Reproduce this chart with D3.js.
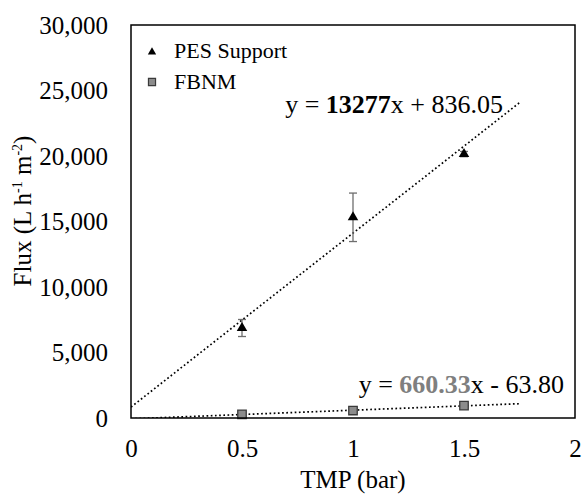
<!DOCTYPE html>
<html>
<head>
<meta charset="utf-8">
<script src="https://cdn.jsdelivr.net/npm/d3@7"></script>
<style>
  html, body { margin: 0; padding: 0; background: #fff; }
  svg { display: block; font-family: "Liberation Serif", "Times New Roman", serif; }
</style>
</head>
<body>
<svg id="chart" width="582" height="495"></svg>
<script>
// Transmembrane pressure (bar)
const tmp = [0.5, 1.0, 1.5];
// Flux of the PES support and the FBNM (L h-1 m-2)
const pesFlux = [6870, 15320, 20147];
const pesErr = [650, 1850, 200];
const fbnmFlux = [280, 570, 940];
// Linear fits: y = slope * x + intercept
const pesFit = { slope: 13277, intercept: 836.05 };
const fbnmFit = { slope: 660.33, intercept: -63.80 };
const fitRange = [0, 1.75];
// Axis ticks
const xTicks = [0, 0.5, 1, 1.5, 2];
const yTicks = [0, 5000, 10000, 15000, 20000, 25000, 30000];
const seriesNames = ["PES Support", "FBNM"];

const svg = d3.select("#chart");
const margin = { left: 131, top: 25, right: 7, bottom: 77 };
const W = 582, H = 495;
const iw = W - margin.left - margin.right;
const ih = H - margin.top - margin.bottom;

const x = d3.scaleLinear().domain([0, 2]).range([0, iw]);
const y = d3.scaleLinear().domain([0, 30000]).range([ih, 0]);

const g = svg.append("g").attr("transform", `translate(${margin.left},${margin.top})`);

svg.append("defs").append("clipPath").attr("id", "plotClip")
  .append("rect").attr("x", 0).attr("y", 0).attr("width", iw).attr("height", ih);

// Axes (labels only, frame drawn separately)
const yAxis = g.append("g")
  .call(d3.axisLeft(y).tickValues(yTicks).tickSize(0).tickPadding(23).tickFormat(d3.format(",")));
yAxis.select(".domain").remove();
yAxis.attr("font-family", null);
yAxis.selectAll("text").attr("font-size", 25).attr("fill", "#000");

const xAxis = g.append("g").attr("transform", `translate(0,${ih})`)
  .call(d3.axisBottom(x).tickValues(xTicks).tickSize(0).tickPadding(21).tickFormat(d => String(d)));
xAxis.select(".domain").remove();
xAxis.attr("font-family", null);
xAxis.selectAll("text").attr("font-size", 25).attr("fill", "#000");

// Trend lines
const fitLine = fit => fitRange.map(v => [x(v), y(fit.slope * v + fit.intercept)]);
const plot = g.append("g").attr("clip-path", "url(#plotClip)");
[pesFit, fbnmFit].forEach(fit => {
  plot.append("path")
    .attr("d", d3.line()(fitLine(fit)))
    .attr("fill", "none").attr("stroke", "#000")
    .attr("stroke-width", 1.7)
    .attr("stroke-dasharray", "1.7,2.5");
});

// Error bars for PES support
const eb = g.append("g").attr("stroke", "#6e6e6e").attr("stroke-width", 1.3);
tmp.forEach((t, i) => {
  const cx = x(t), y0 = y(pesFlux[i] - pesErr[i]), y1 = y(pesFlux[i] + pesErr[i]);
  eb.append("line").attr("x1", cx).attr("x2", cx).attr("y1", y0).attr("y2", y1);
  eb.append("line").attr("x1", cx - 4).attr("x2", cx + 4).attr("y1", y0).attr("y2", y0);
  eb.append("line").attr("x1", cx - 4).attr("x2", cx + 4).attr("y1", y1).attr("y2", y1);
});

// Markers
const tri = d3.symbol().type(d3.symbolTriangle).size(48);
const sq = d3.symbol().type(d3.symbolSquare).size(72);
g.selectAll(".pes").data(tmp).join("path")
  .attr("transform", (d, i) => `translate(${x(d)},${y(pesFlux[i])})`)
  .attr("d", tri).attr("fill", "#000");
g.selectAll(".fbnm").data(tmp).join("path")
  .attr("transform", (d, i) => `translate(${x(d)},${y(fbnmFlux[i])})`)
  .attr("d", sq).attr("fill", "#8c8c8c").attr("stroke", "#3a3a3a").attr("stroke-width", 1.3);

// Frame
g.append("rect").attr("x", 0).attr("y", 0).attr("width", iw).attr("height", ih)
  .attr("fill", "none").attr("stroke", "#000").attr("stroke-width", 1.5);

// Legend
const leg = g.append("g").attr("transform", "translate(21,0)");
leg.append("path").attr("transform", "translate(0,27)")
  .attr("d", d3.symbol().type(d3.symbolTriangle).size(30)).attr("fill", "#000");
leg.append("path").attr("transform", "translate(0,57)")
  .attr("d", d3.symbol().type(d3.symbolSquare).size(50))
  .attr("fill", "#8c8c8c").attr("stroke", "#3a3a3a").attr("stroke-width", 1.2);
leg.append("text").attr("x", 22).attr("y", 33).attr("font-size", 22).text(seriesNames[0]);
leg.append("text").attr("x", 22).attr("y", 64).attr("font-size", 22).text(seriesNames[1]);

// Fit equations
const eq1 = g.append("text").attr("x", 503 - margin.left).attr("y", 113 - margin.top)
  .attr("text-anchor", "end").attr("font-size", 26).attr("fill", "#000");
eq1.append("tspan").text("y = ");
eq1.append("tspan").attr("font-weight", "bold").text(String(pesFit.slope));
eq1.append("tspan").text("x + " + pesFit.intercept.toFixed(2));

const eq2 = g.append("text").attr("x", 564 - margin.left).attr("y", 393 - margin.top)
  .attr("text-anchor", "end").attr("font-size", 26).attr("fill", "#000");
eq2.append("tspan").text("y = ");
eq2.append("tspan").attr("font-weight", "bold").attr("fill", "#7f7f7f").text(fbnmFit.slope.toFixed(2));
eq2.append("tspan").text("x - " + Math.abs(fbnmFit.intercept).toFixed(2));

// Axis titles
svg.append("text").attr("x", margin.left + iw / 2).attr("y", 488)
  .attr("text-anchor", "middle").attr("font-size", 25).text("TMP (bar)");

const yt = svg.append("text")
  .attr("transform", "translate(31,211) rotate(-90)")
  .attr("text-anchor", "middle").attr("font-size", 25);
yt.append("tspan").text("Flux (L h");
yt.append("tspan").attr("font-size", 14).attr("dy", -9).text("-1");
yt.append("tspan").attr("dy", 9).text(" m");
yt.append("tspan").attr("font-size", 14).attr("dy", -9).text("-2");
yt.append("tspan").attr("dy", 9).text(")");
</script>
</body>
</html>
